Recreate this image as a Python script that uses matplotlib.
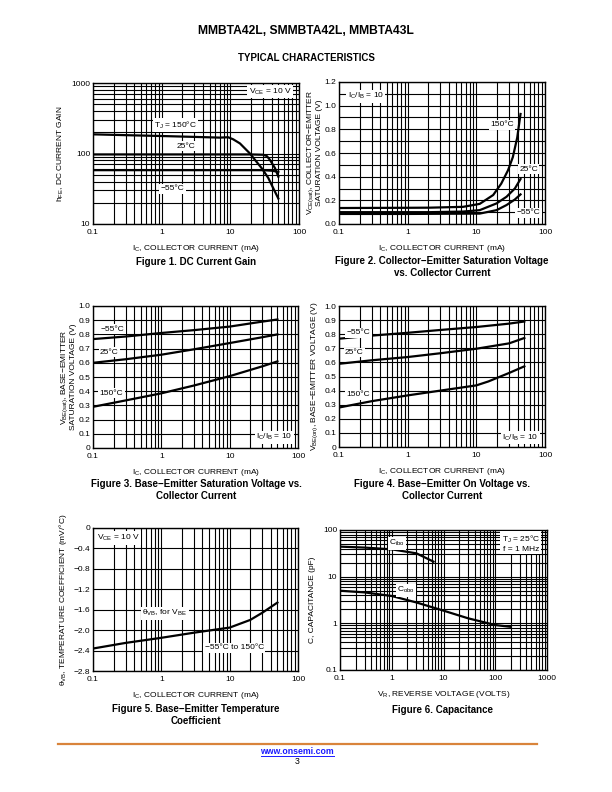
import matplotlib
matplotlib.use("Agg")
import matplotlib.pyplot as plt
from matplotlib.lines import Line2D
from matplotlib.ticker import FixedLocator, NullFormatter, LogLocator

plt.rcParams['font.family'] = ['Liberation Sans', 'DejaVu Sans']
plt.rcParams['mathtext.fontset'] = 'custom'
plt.rcParams['mathtext.rm'] = 'Liberation Sans'

# ── Data ─────────────────────────────────────────────────────────────────────
# Figure 1: DC current gain
f1_ic_150 = [0.1, 0.3, 1, 3, 7, 9.3, 11, 13.8, 16.3, 19.3, 22.9, 28.6, 35.7, 42.3, 50]
f1_hfe_150 = [187, 182, 177, 172, 168, 170, 159, 139, 118, 100, 81, 62, 45, 32, 23]
f1_ic_25 = [0.1, 1, 10, 20, 30, 34, 37.8, 44.7, 50]
f1_hfe_25 = [97, 97, 97, 97, 96, 92, 81, 62, 47]
f1_ic_m55 = [0.1, 1, 10, 30, 40, 50]
f1_hfe_m55 = [58, 58, 58, 58, 57, 55]

# Figure 2: VCE(sat)
f2_ic_150 = [0.1, 1, 2.1, 6.4, 11.2, 17.6, 23, 29, 34, 39.4, 44]
f2_v_150 = [0.135, 0.137, 0.138, 0.145, 0.17, 0.245, 0.34, 0.455, 0.565, 0.73, 0.93]
f2_ic_25 = [0.1, 1, 2.1, 6.4, 11.2, 19.7, 27.5, 36.4, 44]
f2_v_25 = [0.10, 0.10, 0.10, 0.105, 0.117, 0.174, 0.23, 0.30, 0.38]
f2_ic_m55 = [0.1, 1, 11.2, 19.7, 27.5, 36.4, 44]
f2_v_m55 = [0.085, 0.085, 0.088, 0.117, 0.16, 0.207, 0.25]

# Figure 3: VBE(sat)
f3_ic = [0.1, 0.3, 1, 3, 10, 30, 50]
f3_v_m55 = [0.767, 0.785, 0.81, 0.83, 0.855, 0.89, 0.905]
f3_v_25 = [0.60, 0.625, 0.657, 0.695, 0.739, 0.78, 0.80]
f3_v_150 = [0.29, 0.335, 0.385, 0.44, 0.506, 0.575, 0.61]

# Figure 4: VBE(on)
f4_ic = [0.1, 0.3, 1, 3, 10, 30, 50]
f4_v_m55 = [0.768, 0.79, 0.81, 0.83, 0.851, 0.875, 0.89]
f4_v_25 = [0.59, 0.615, 0.638, 0.665, 0.697, 0.735, 0.773]
f4_ic_150 = [0.1, 0.3, 1, 3, 10, 15, 20, 30, 50]
f4_v_150 = [0.28, 0.325, 0.366, 0.40, 0.437, 0.465, 0.49, 0.525, 0.572]

# Figure 5: temperature coefficient
f5_ic = [0.1, 0.3, 1, 3, 10, 20, 30, 50]
f5_theta = [-2.36, -2.25, -2.15, -2.05, -1.95, -1.80, -1.66, -1.46]

# Figure 6: capacitance
f6_vr_ibo = [0.1, 0.3, 1, 3, 6.4]
f6_c_ibo = [44, 42, 38.5, 31.6, 21]
f6_vr_obo = [0.1, 0.3, 1, 3, 10, 30, 100, 200]
f6_c_obo = [5.0, 4.6, 3.85, 2.8, 1.87, 1.28, 0.92, 0.84]

# ── Layout helpers (page pixels -> figure fraction) ──────────────────────────
W, H = 612, 792
fig = plt.figure(figsize=(W / 100, H / 100), dpi=100)


def P(x, y):
    return x / W, 1 - y / H


def axes_px(x0, y0, x1, y1):
    return fig.add_axes([x0 / W, 1 - y1 / H, (x1 - x0) / W, (y1 - y0) / H])


TICK_FS = 6
LAB_FS = 6.0
CAP_FS = 7.0
LW = 1.6
GRID_LW = 0.8
BOX = dict(facecolor="white", edgecolor="none", pad=1.0)


def style(ax):
    for s in ax.spines.values():
        s.set_linewidth(1.0)
    ax.tick_params(which="both", length=0, labelsize=TICK_FS)
    ax.tick_params(axis="x", pad=3.5)
    ax.tick_params(axis="y", pad=2)
    ax.set_axisbelow(True)


def log_x(ax, lo, hi, labels):
    ax.set_xscale("log")
    ax.set_xlim(lo, hi)
    ax.xaxis.set_major_locator(FixedLocator([float(l) for l in labels]))
    ax.set_xticklabels(labels)
    ax.xaxis.set_minor_locator(LogLocator(base=10, subs=range(2, 10), numticks=20))
    ax.xaxis.set_minor_formatter(NullFormatter())
    ax.grid(True, which="both", axis="x", color="black", lw=GRID_LW)


def log_y(ax, lo, hi, labels):
    ax.set_yscale("log")
    ax.set_ylim(lo, hi)
    ax.yaxis.set_major_locator(FixedLocator([float(l) for l in labels]))
    ax.set_yticklabels(labels)
    ax.yaxis.set_minor_locator(LogLocator(base=10, subs=range(2, 10), numticks=20))
    ax.yaxis.set_minor_formatter(NullFormatter())
    ax.grid(True, which="both", axis="y", color="black", lw=GRID_LW)


def lin_y(ax, ticks, labels, grid):
    ax.set_ylim(ticks[0], ticks[-1])
    ax.set_yticks(ticks)
    ax.set_yticklabels(labels)
    ax.yaxis.set_minor_locator(FixedLocator(grid))
    ax.grid(True, which="both", axis="y", color="black", lw=GRID_LW)


def note(ax, x, y, s, **kw):
    ax.text(x, y, s, transform=ax.transAxes, fontsize=TICK_FS, ha="center",
            va="center", bbox=BOX, zorder=5, **kw)


IC_LABEL = "I$\\mathregular{_C}$, COLLECTOR CURRENT (mA)"
IC_TICKS = ["0.1", "1", "10", "100"]

# ── Figure 1 ─────────────────────────────────────────────────────────────────
ax1 = axes_px(93, 83, 299, 224)
style(ax1)
log_x(ax1, 0.1, 100, IC_TICKS)
log_y(ax1, 10, 1000, ["10", "100", "1000"])
ax1.plot(f1_ic_150, f1_hfe_150, color="black", lw=LW)
ax1.plot(f1_ic_25, f1_hfe_25, color="black", lw=LW)
ax1.plot(f1_ic_m55, f1_hfe_m55, color="black", lw=LW)
note(ax1, 0.86, 0.94, "V$\\mathregular{_{CE}}$ = 10 V")
note(ax1, 0.40, 0.70, "T$\\mathregular{_J}$ = 150°C")
note(ax1, 0.45, 0.553, "25°C")
note(ax1, 0.385, 0.25, "−55°C")
ax1.set_ylabel("h$\\mathregular{_{FE}}$, DC CURRENT GAIN", fontsize=LAB_FS, labelpad=4)
ax1.set_xlabel(IC_LABEL, fontsize=LAB_FS, labelpad=5)

# ── Figure 2 ─────────────────────────────────────────────────────────────────
ax2 = axes_px(339, 82, 545, 224)
style(ax2)
log_x(ax2, 0.1, 100, IC_TICKS)
lin_y(ax2, [0, 0.2, 0.4, 0.6, 0.8, 1.0, 1.2],
      ["0.0", "0.2", "0.4", "0.6", "0.8", "1.0", "1.2"],
      [0.1, 0.3, 0.5, 0.7, 0.9, 1.1])
ax2.plot(f2_ic_150, f2_v_150, color="black", lw=LW)
ax2.plot(f2_ic_25, f2_v_25, color="black", lw=LW)
ax2.plot(f2_ic_m55, f2_v_m55, color="black", lw=LW)
note(ax2, 0.13, 0.90, "I$\\mathregular{_C}$/I$\\mathregular{_B}$ = 10")
note(ax2, 0.79, 0.70, "150°C")
note(ax2, 0.92, 0.385, "25°C")
note(ax2, 0.92, 0.08, "−55°C")
ax2.set_ylabel("V$\\mathregular{_{CE(sat)}}$, COLLECTOR−EMITTER\nSATURATION VOLTAGE (V)",
               fontsize=LAB_FS, labelpad=1, linespacing=1.0)
ax2.set_xlabel(IC_LABEL, fontsize=LAB_FS, labelpad=5)

# ── Figure 3 ─────────────────────────────────────────────────────────────────
v_ticks = [0, 0.1, 0.2, 0.3, 0.4, 0.5, 0.6, 0.7, 0.8, 0.9, 1.0]
v_labels = ["0", "0.1", "0.2", "0.3", "0.4", "0.5", "0.6", "0.7", "0.8", "0.9", "1.0"]

ax3 = axes_px(93, 306, 298, 448)
style(ax3)
log_x(ax3, 0.1, 100, IC_TICKS)
lin_y(ax3, v_ticks, v_labels, [])
ax3.plot(f3_ic, f3_v_m55, color="black", lw=LW)
ax3.plot(f3_ic, f3_v_25, color="black", lw=LW)
ax3.plot(f3_ic, f3_v_150, color="black", lw=LW)
note(ax3, 0.095, 0.837, "−55°C")
note(ax3, 0.08, 0.676, "25°C")
note(ax3, 0.09, 0.385, "150°C")
note(ax3, 0.885, 0.075, "I$\\mathregular{_C}$/I$\\mathregular{_B}$ = 10")
ax3.set_ylabel("V$\\mathregular{_{BE(sat)}}$, BASE−EMITTER\nSATURATION VOLTAGE (V)",
               fontsize=LAB_FS, labelpad=1, linespacing=1.0)
ax3.set_xlabel(IC_LABEL, fontsize=LAB_FS, labelpad=5)

# ── Figure 4 ─────────────────────────────────────────────────────────────────
ax4 = axes_px(339, 306, 545, 447)
style(ax4)
log_x(ax4, 0.1, 100, IC_TICKS)
lin_y(ax4, v_ticks, v_labels, [])
ax4.plot(f4_ic, f4_v_m55, color="black", lw=LW)
ax4.plot(f4_ic, f4_v_25, color="black", lw=LW)
ax4.plot(f4_ic_150, f4_v_150, color="black", lw=LW)
note(ax4, 0.095, 0.81, "−55°C")
note(ax4, 0.075, 0.67, "25°C")
note(ax4, 0.095, 0.37, "150°C")
note(ax4, 0.88, 0.065, "I$\\mathregular{_C}$/I$\\mathregular{_B}$ = 10")
ax4.set_ylabel("V$\\mathregular{_{BE(on)}}$, BASE−EMITTER VOLTAGE (V)",
               fontsize=LAB_FS, labelpad=3)
ax4.set_xlabel(IC_LABEL, fontsize=LAB_FS, labelpad=5)

# ── Figure 5 ─────────────────────────────────────────────────────────────────
ax5 = axes_px(93, 528, 298, 671)
style(ax5)
log_x(ax5, 0.1, 100, IC_TICKS)
t_ticks = [-2.8, -2.4, -2.0, -1.6, -1.2, -0.8, -0.4, 0]
t_labels = ["−2.8", "−2.4", "−2.0", "−1.6", "−1.2", "−0.8", "−0.4", "0"]
lin_y(ax5, t_ticks, t_labels, [])
ax5.plot(f5_ic, f5_theta, color="black", lw=LW)
note(ax5, 0.125, 0.93, "V$\\mathregular{_{CE}}$ = 10 V")
note(ax5, 0.35, 0.405, "θ$\\mathregular{_{VB}}$, for V$\\mathregular{_{BE}}$")
note(ax5, 0.69, 0.163, "−55°C to 150°C")
ax5.set_ylabel("θ$\\mathregular{_{VB}}$, TEMPERATURE COEFFICIENT (mV/°C)",
               fontsize=LAB_FS, labelpad=3)
ax5.set_xlabel(IC_LABEL, fontsize=LAB_FS, labelpad=5)

# ── Figure 6 ─────────────────────────────────────────────────────────────────
ax6 = axes_px(340, 530, 547, 670)
style(ax6)
log_x(ax6, 0.1, 1000, ["0.1", "1", "10", "100", "1000"])
log_y(ax6, 0.1, 100, ["0.1", "1", "10", "100"])
ax6.plot(f6_vr_ibo, f6_c_ibo, color="black", lw=LW)
ax6.plot(f6_vr_obo, f6_c_obo, color="black", lw=LW)
note(ax6, 0.275, 0.905, "C$\\mathregular{_{ibo}}$")
note(ax6, 0.32, 0.571, "C$\\mathregular{_{obo}}$")
ax6.text(0.965, 0.905, "T$\\mathregular{_J}$ = 25°C\nf = 1 MHz", transform=ax6.transAxes,
         fontsize=TICK_FS, ha="right", va="center", bbox=BOX, zorder=5,
         multialignment="right", linespacing=1.1)
ax6.set_ylabel("C, CAPACITANCE (pF)", fontsize=LAB_FS, labelpad=5)
ax6.set_xlabel("V$\\mathregular{_R}$, REVERSE VOLTAGE (VOLTS)", fontsize=LAB_FS, labelpad=5)

# ── Page text ────────────────────────────────────────────────────────────────
fig.text(*P(306, 31), "MMBTA42L, SMMBTA42L, MMBTA43L", ha="center", va="center",
         fontsize=8.7, fontweight="bold")
fig.text(*P(306, 58), "TYPICAL CHARACTERISTICS", ha="center", va="center",
         fontsize=7.0, fontweight="bold")

captions = [
    (196, 262, "Figure 1. DC Current Gain"),
    (442, 267, "Figure 2. Collector−Emitter Saturation Voltage\nvs. Collector Current"),
    (196, 490, "Figure 3. Base−Emitter Saturation Voltage vs.\nCollector Current"),
    (442, 490, "Figure 4. Base−Emitter On Voltage vs.\nCollector Current"),
    (196, 715, "Figure 5. Base−Emitter Temperature\nCoefficient"),
    (442, 710, "Figure 6. Capacitance"),
]
for cx, cy, txt in captions:
    fig.text(*P(cx, cy), txt, ha="center", va="center", fontsize=CAP_FS,
             fontweight="bold", linespacing=1.2)

# footer
fig.add_artist(Line2D([58 / W, 537 / W], [1 - 744 / H] * 2, color="#d9843b", lw=1.6))
fig.text(*P(297, 751.5), "www.onsemi.com", ha="center", va="center",
         fontsize=6.3, color="#1a1aff", fontweight="bold")
fig.add_artist(Line2D([261 / W, 334 / W], [1 - 756 / H] * 2, color="#1a1aff", lw=0.7))
fig.text(*P(297, 762), "3", ha="center", va="center", fontsize=6.3)

fig.savefig("out.png", dpi=100)
print("Saved: out.png")
